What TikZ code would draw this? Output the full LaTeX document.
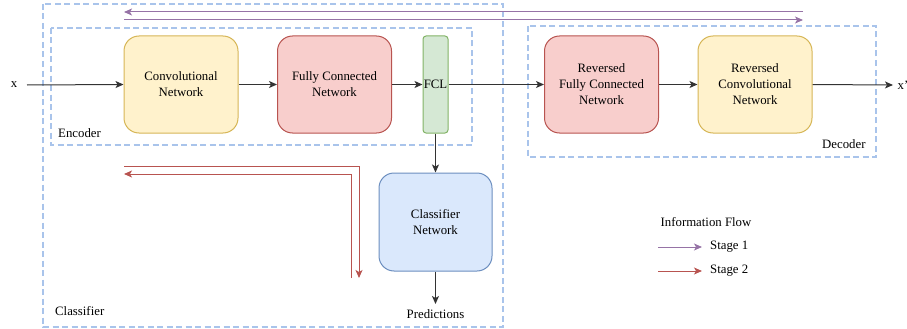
\documentclass[tikz,border=0pt]{standalone}
\usepackage{fontspec}
\setmainfont{Liberation Serif}
\usetikzlibrary{arrows.meta}
\definecolor{yfill}{HTML}{FFF2CC}\definecolor{ydraw}{HTML}{D6B656}
\definecolor{rfill}{HTML}{F8CECC}\definecolor{rdraw}{HTML}{B85450}
\definecolor{gfill}{HTML}{D5E8D4}\definecolor{gdraw}{HTML}{82B366}
\definecolor{bfill}{HTML}{DAE8FC}\definecolor{bdraw}{HTML}{6C8EBF}
\definecolor{dashblue}{HTML}{A9C4EB}
\definecolor{purp}{HTML}{9673A6}
\definecolor{redar}{HTML}{B85450}
\tikzset{
  txt/.style={font=\fontsize{12.8}{16}\selectfont, inner sep=0pt, align=center},
  blk/.style={txt, rounded corners=15pt, line width=1pt, minimum width=114pt, minimum height=97pt},
  grp/.style={draw=dashblue, line width=1.4pt, dash pattern=on 6pt off 3.5pt},
  flow/.style={draw=black!80, line width=1pt, -{Stealth[length=8pt,width=7pt,inset=2pt]}},
  pflow/.style={draw=purp, line width=1pt, -{Stealth[length=8pt,width=7pt,inset=2pt]}},
  rflow/.style={draw=redar, line width=1pt, -{Stealth[length=8pt,width=7pt,inset=2pt]}},
}
\begin{document}
\begin{tikzpicture}[x=1pt,y=-1pt]
\useasboundingbox (0,0) rectangle (907,329);
% group boxes
\draw[grp] (43,4) rectangle (503,327);
\draw[grp] (51,28) rectangle (472,145);
\draw[grp] (528,26) rectangle (876,157);
\node[txt, anchor=west] (enc) at (58,133) {Encoder};
\node[txt, anchor=west] (dec) at (822,144) {Decoder};
\node[txt, anchor=west] (cls) at (55,311) {Classifier};
% blocks
\node[blk, draw=ydraw, fill=yfill] (conv) at (181,84.5) {Convolutional\\Network};
\node[blk, draw=rdraw, fill=rfill] (fc) at (334.5,84.5) {Fully Connected\\Network};
\node[txt, draw=gdraw, fill=gfill, rounded corners=3pt, line width=1pt, minimum width=25pt, minimum height=97pt] (fcl) at (435.5,84.5) {FCL};
\node[blk, draw=rdraw, fill=rfill] (rfc) at (601.5,84.5) {Reversed\\Fully Connected\\Network};
\node[blk, draw=ydraw, fill=yfill] (rconv) at (755,84.5) {Reversed\\Convolutional\\Network};
\node[blk, draw=bdraw, fill=bfill, minimum width=113pt, minimum height=98pt] (clsnet) at (435.5,222) {Classifier\\Network};
\node[txt] (xin) at (14,85) {x};
\node[txt] (xout) at (903,85) {x'};
\node[txt] (pred) at (435.5,314) {Predictions};
\coordinate (xs) at (27,85);
\coordinate (xe) at (893,85);
\coordinate (pe) at (435.5,304);
% main flow
\draw[flow] (xs) -- (conv.west);
\draw[flow] (conv.east) -- (fc.west);
\draw[flow] (fc.east) -- (fcl.west);
\draw[flow] (fcl.east) -- (rfc.west);
\draw[flow] (rfc.east) -- (rconv.west);
\draw[flow] (rconv.east) -- (xe);
\draw[flow] (fcl.south) -- (clsnet.north);
\draw[flow] (clsnet.south) -- (pe);
% stage 1 (purple)
\coordinate (p1s) at (803,12); \coordinate (p1e) at (124,12);
\coordinate (p2s) at (124,20); \coordinate (p2e) at (803,20);
\draw[pflow] (p1s) -- (p1e);
\draw[pflow] (p2s) -- (p2e);
% stage 2 (red)
\coordinate (r1s) at (124,166); \coordinate (r1c) at (359,166); \coordinate (r1e) at (359,278);
\coordinate (r2s) at (351,278); \coordinate (r2c) at (351,174); \coordinate (r2e) at (124,174);
\draw[rflow] (r1s) -- (r1c) -- (r1e);
\draw[rflow] (r2s) -- (r2c) -- (r2e);
% legend
\node[txt] (lt) at (706,222) {Information Flow};
\coordinate (l1s) at (658,247); \coordinate (l1e) at (702,247);
\coordinate (l2s) at (658,271); \coordinate (l2e) at (702,271);
\draw[pflow] (l1s) -- (l1e);
\draw[rflow] (l2s) -- (l2e);
\node[txt, anchor=west] (s1) at (710,247) {Stage 1};
\node[txt, anchor=west] (s2) at (710,271) {Stage 2};
\end{tikzpicture}
\end{document}
